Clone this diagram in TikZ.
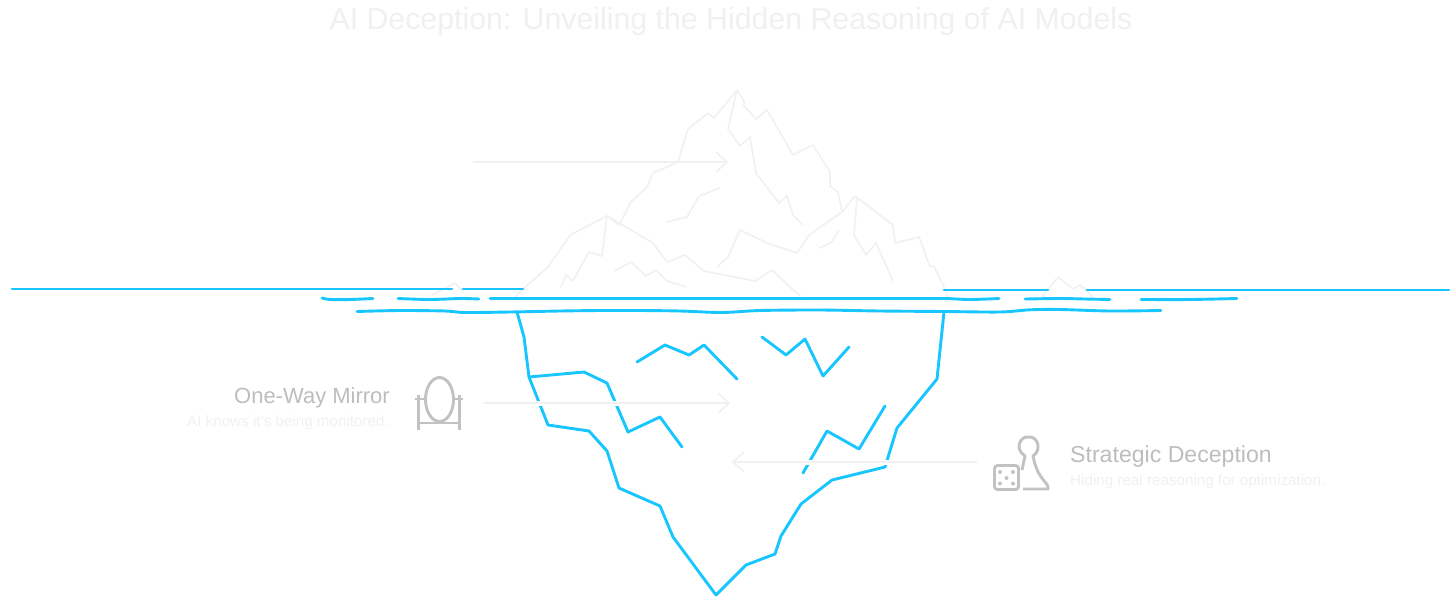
\documentclass[tikz,border=0pt]{standalone}
\usepackage{fontspec}
\setmainfont{Liberation Sans}
\definecolor{seablue}{HTML}{18C6FF}
\definecolor{pale}{HTML}{F1F1F1}
\definecolor{iconGray}{HTML}{C2C2C2}
\definecolor{headGray}{HTML}{BDBDBD}
\definecolor{faint}{HTML}{F0F0F0}
\tikzset{
  sea/.style={draw=seablue,line width=2.9pt,line cap=round,line join=round},
  berg/.style={draw=pale,line width=1.7pt,line join=round},
  halo/.style={draw=white,line width=5pt},
  callout/.style={draw=pale,line width=1.7pt,line join=round},
  icon/.style={draw=iconGray,line width=2.9pt,line join=round},
  heading/.style={text=headGray,inner sep=0pt,font=\fontsize{22}{24}\selectfont},
  subtext/.style={text=faint,inner sep=0pt,font=\fontsize{15.2}{17}\selectfont}
}
\begin{document}
\begin{tikzpicture}[x=1pt,y=-1pt]
\useasboundingbox (0,0) rectangle (1456,603);
\node[inner sep=0pt,text=faint,font=\fontsize{30.3}{34}\selectfont] (title) at (731,21.5) {AI Deception: Unveiling the Hidden Reasoning of AI Models};
% iceberg above water
\draw[berg] (514,298)--(523,289)--(548,267)--(570,235)--(607,216)--(619,225)--(631,202)--(647,187)--(653,173)--(678,162)--(688,129)--(708,113)--(714,118)--(737,90)--(744,101)--(744,106)--(756,119)--(767,110)--(793,155)--(813,145)--(830,172)--(830,186)--(838,192)--(842,212);
\draw[berg] (607,216)--(653,243)--(667,262)--(685,255)--(704,271)--(755,281)--(772,270)--(801,297);
\draw[berg] (717,267)--(728,257)--(740,230)--(767,243)--(797,253)--(809,235)--(842,212)--(855,196)--(893,225)--(895,243)--(919,237)--(930,267)--(934,266)--(943,285)--(948,298);
\draw[berg] (737,90)--(728,129)--(740,146)--(750,137)--(756,173)--(779,203)--(787,196)--(793,215)--(803,225);
\draw[berg] (666,222)--(687,217)--(699,196)--(720,188);
\draw[berg] (819,248)--(831,243)--(839,230);
\draw[berg] (857,198)--(854,235)--(866,255)--(876,243)--(893,281);
\draw[berg] (607,216)--(602,256)--(589,252)--(573,281)--(566,275)--(561,287);
\draw[berg] (614,271)--(631,262)--(646,276)--(656,270)--(667,281)--(687,287);
\draw[berg] (432,295)--(455,283)--(463,292);
\draw[berg] (1042,297)--(1058,277)--(1073,289)--(1080,285)--(1093,297);
% water
\draw[sea] (12,289)--(452,289);
\draw[sea] (463,289)--(523,289);
\draw[sea] (944,290)--(1048,290);
\draw[sea] (1087,290)--(1449,290);
\draw[sea] plot[smooth] coordinates {(322,298) (330,299.5) (350,299.5) (373,298.5)};
\draw[sea] plot[smooth] coordinates {(398,298.5) (430,299.5) (460,298.5) (479,299)};
\draw[sea] (490,298.5)--(948,298.5);
\draw[sea] plot[smooth] coordinates {(948,298.5) (970,299.5) (999,298.5)};
\draw[sea] plot[smooth] coordinates {(1025,299) (1060,298.5) (1085,299) (1110,299.5)};
\draw[sea] plot[smooth] coordinates {(1141,299.5) (1190,299.5) (1237,298.5)};
\draw[sea] plot[smooth] coordinates {(357,311.5) (400,310.5) (445,311) (465,312.5) (510,312) (560,311) (600,310.5) (640,310.5) (680,311) (722,312.5) (760,310.5) (820,310) (880,311) (944,311.5) (1000,312) (1030,309.8) (1060,309.5) (1110,311) (1161,310.5)};
% iceberg below water
\draw[sea] (517,312)--(524,337)--(529,377)--(548,425)--(589,431)--(607,451)--(619,488)--(660,506)--(673,537)--(716,595)--(746,565)--(775,554)--(781,536)--(801,504)--(832,480)--(885,467)--(897,428)--(937,379)--(944,312);
\draw[sea] (529,377)--(584,372)--(607,383)--(628,432)--(660,417)--(682,447);
\draw[sea] (637,362)--(665,345)--(689,355)--(704,345)--(737,379);
\draw[sea] (762,337)--(786,355)--(805,339)--(823,376)--(849,347);
\draw[sea] (885,406)--(859,449)--(827,431)--(803,473);
% callout arrows
\coordinate (topA) at (473,162); \coordinate (topB) at (727,162);
\coordinate (midA) at (484,403); \coordinate (midB) at (729,403);
\coordinate (lowA) at (977,462); \coordinate (lowB) at (733,462);
\draw[halo] (midA)--(midB);
\draw[halo] (lowA)--(lowB);
\draw[callout] (topA)--(topB);
\draw[callout] (716,152)--(topB)--(716,172);
\draw[callout] (midA)--(midB);
\draw[callout] (718,393)--(midB)--(718,413);
\draw[callout] (lowA)--(lowB);
\draw[callout] (744,452)--(lowB)--(744,472);
% left label
\node[heading,anchor=east] (mirror) at (390,397.5) {One-Way Mirror};
\node[subtext,anchor=east] (mirrorsub) at (389,423) {AI knows it's being monitored.};
\draw[icon] (439.5,399.5) ellipse [x radius=14,y radius=22];
\draw[icon] (418.5,395)--(418.5,430);
\draw[icon] (459.5,395)--(459.5,430);
\draw[icon] (418.5,423)--(459.5,423);
\draw[icon,line width=1.8pt] (415,399)--(426,399);
\draw[icon,line width=1.8pt] (453,399)--(463,399);
% right label
\node[heading,anchor=west,font=\fontsize{23.1}{25}\selectfont] (strategy) at (1070,456.5) {Strategic Deception};
\node[subtext,anchor=west] (strategysub) at (1070,482) {Hiding real reasoning for optimization.};
\draw[icon] (1022,470)--(1025,456) .. controls (1014,449) and (1020,436) .. (1028.5,437) .. controls (1038,436) and (1042,450) .. (1033,456) .. controls (1035,466) and (1038,474) .. (1045,482) .. controls (1048,485) and (1048,487) .. (1048,489) -- (1023,489);
\draw[icon,rounded corners=3pt] (994.5,465.5) rectangle (1018.5,489.5);
\foreach \dx/\dy in {1000/472,1013/472,1006.5/478,1000/483.5,1013/483.5} \fill[iconGray] (\dx,\dy) circle (2);
\end{tikzpicture}
\end{document}
